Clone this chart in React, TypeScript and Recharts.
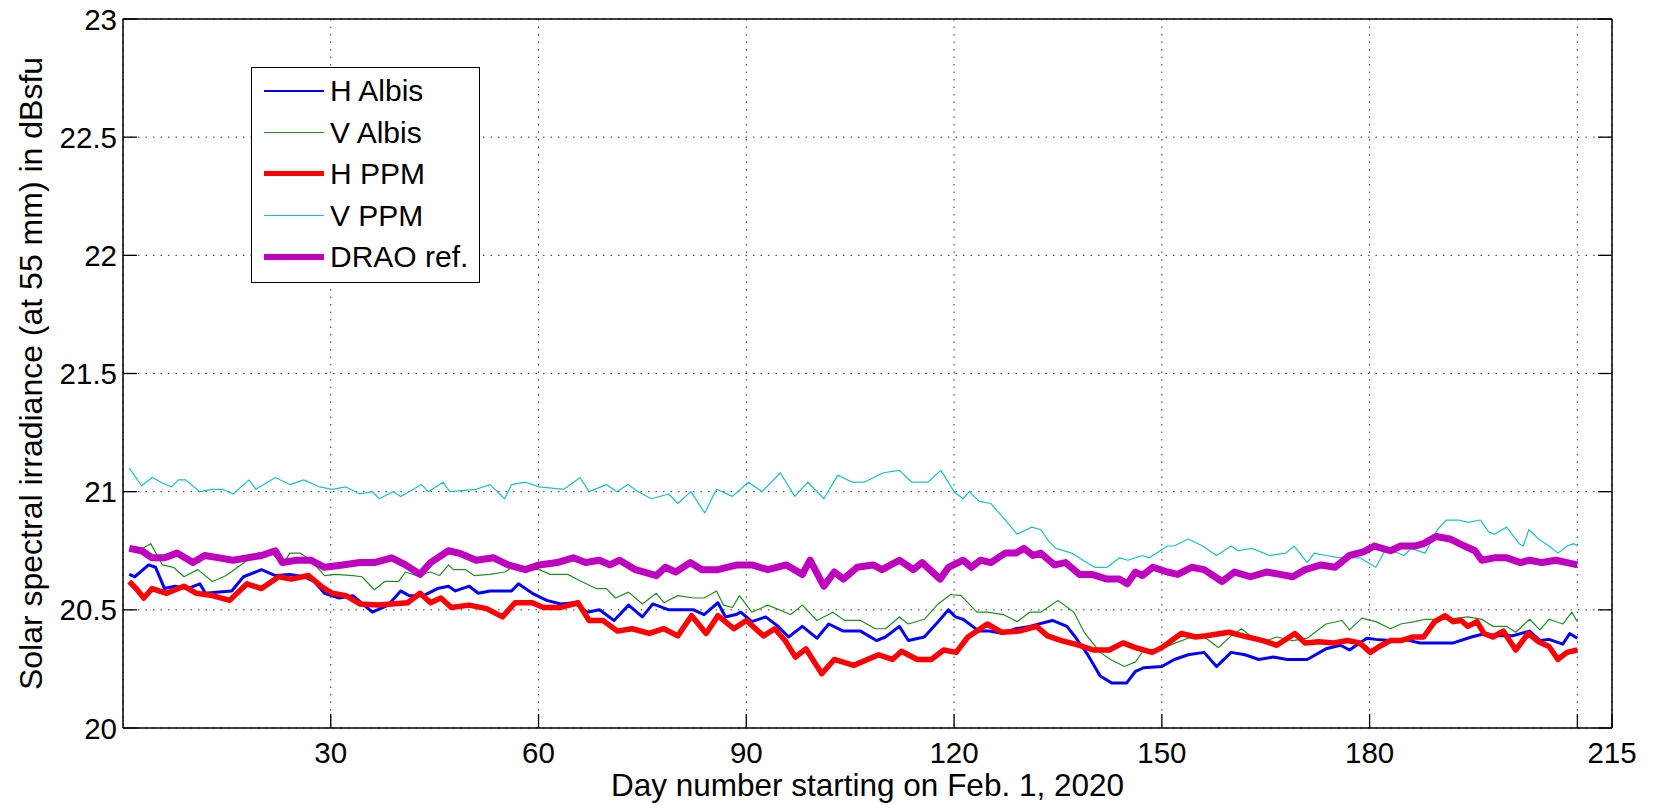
import { LineChart, Line, XAxis, YAxis, CartesianGrid } from "recharts";

// day number, value in dBsfu
const hAlbis: [number, number][] = [
  [0.9, 20.65], [1.7, 20.64], [3.7, 20.69], [4.7, 20.68], [6.0, 20.59], [7.5, 20.6], [9.3, 20.59], [11.1, 20.61],
  [11.9, 20.57], [13.9, 20.575], [15.7, 20.58], [17.4, 20.64], [20.0, 20.67], [22.0, 20.645], [24.1, 20.65],
  [26.1, 20.64], [27.6, 20.62], [29.1, 20.57], [31.2, 20.55], [33.2, 20.56], [36.0, 20.49], [38.3, 20.52],
  [40.1, 20.58], [41.3, 20.56], [43.4, 20.56], [45.4, 20.59], [47.0, 20.6], [48.0, 20.58], [50.0, 20.6],
  [51.3, 20.57], [53.0, 20.58], [56.1, 20.58], [57.1, 20.61], [59.1, 20.57], [61.2, 20.54], [63.2, 20.525],
  [65.2, 20.53], [67.0, 20.49], [68.8, 20.5], [70.9, 20.455], [73.0, 20.52], [75.0, 20.47], [76.5, 20.525],
  [78.8, 20.5], [80.6, 20.5], [82.4, 20.5], [83.9, 20.48], [85.9, 20.53], [87.0, 20.47], [88.5, 20.48],
  [89.2, 20.49], [90.8, 20.45], [92.8, 20.47], [94.6, 20.43], [96.1, 20.385], [98.1, 20.43], [100.2, 20.38],
  [101.9, 20.44], [104.0, 20.41], [106.5, 20.41], [108.8, 20.37], [110.1, 20.385], [112.1, 20.43], [113.4, 20.37],
  [115.7, 20.385], [117.7, 20.45], [119.2, 20.5], [120.2, 20.47], [121.3, 20.46], [123.6, 20.41], [125.1, 20.41],
  [127.1, 20.4], [128.9, 20.42], [130.9, 20.43], [134.2, 20.455], [136.3, 20.43], [137.5, 20.385], [139.3, 20.31],
  [141.1, 20.22], [142.8, 20.19], [144.9, 20.19], [146.2, 20.24], [147.4, 20.255], [150.0, 20.26], [151.8, 20.29],
  [153.8, 20.31], [156.1, 20.32], [157.9, 20.26], [160.0, 20.32], [162.0, 20.31], [164.0, 20.29], [166.1, 20.3],
  [168.1, 20.29], [171.0, 20.29], [173.7, 20.335], [175.8, 20.35], [177.1, 20.33], [179.6, 20.38], [180.9, 20.375],
  [183.0, 20.37], [185.0, 20.375], [187.3, 20.36], [190.1, 20.36], [192.1, 20.36], [194.7, 20.385], [196.7, 20.4],
  [198.3, 20.39], [200.6, 20.39], [203.1, 20.41], [204.6, 20.37], [205.9, 20.375], [207.9, 20.355], [208.9, 20.4],
  [210.0, 20.38],
];

const vAlbis: [number, number][] = [
  [0.9, 20.75], [2.2, 20.75], [4.0, 20.78], [5.7, 20.69], [7.3, 20.68], [8.8, 20.64], [10.8, 20.67], [12.9, 20.62],
  [14.9, 20.645], [17.0, 20.69], [19.5, 20.74], [21.5, 20.74], [23.0, 20.69], [24.1, 20.74], [25.6, 20.74],
  [27.1, 20.71], [29.1, 20.645], [30.7, 20.65], [33.2, 20.645], [34.5, 20.64], [36.3, 20.585], [37.8, 20.62],
  [39.8, 20.62], [40.8, 20.66], [42.4, 20.645], [44.4, 20.66], [45.7, 20.645], [47.0, 20.69], [47.7, 20.67],
  [49.5, 20.67], [50.7, 20.645], [53.0, 20.65], [55.1, 20.66], [56.8, 20.69], [58.1, 20.67], [60.1, 20.67],
  [61.7, 20.65], [64.2, 20.65], [66.2, 20.62], [68.3, 20.59], [69.8, 20.59], [71.1, 20.55], [73.0, 20.575],
  [75.0, 20.525], [77.0, 20.57], [78.1, 20.53], [80.1, 20.56], [82.4, 20.55], [83.9, 20.55], [85.7, 20.58],
  [86.7, 20.52], [88.0, 20.51], [89.0, 20.56], [90.8, 20.49], [93.1, 20.52], [96.4, 20.48], [98.1, 20.52],
  [100.2, 20.455], [102.5, 20.49], [104.2, 20.455], [106.5, 20.455], [108.6, 20.42], [110.1, 20.42], [112.1, 20.47],
  [113.4, 20.44], [115.7, 20.46], [117.7, 20.525], [119.5, 20.565], [121.0, 20.56], [123.3, 20.49], [124.8, 20.49],
  [127.1, 20.48], [129.1, 20.45], [130.9, 20.49], [132.5, 20.49], [135.0, 20.54], [137.3, 20.49], [138.8, 20.405],
  [141.1, 20.32], [142.6, 20.29], [144.6, 20.26], [146.2, 20.28], [147.4, 20.33], [150.0, 20.335], [152.0, 20.36],
  [153.8, 20.38], [155.9, 20.39], [158.2, 20.34], [160.0, 20.39], [161.5, 20.42], [163.0, 20.385], [165.1, 20.37],
  [166.6, 20.385], [168.9, 20.37], [171.0, 20.38], [173.7, 20.44], [176.0, 20.455], [177.1, 20.415], [178.9, 20.465],
  [180.9, 20.45], [183.0, 20.42], [184.5, 20.44], [186.5, 20.45], [188.0, 20.46], [190.9, 20.46], [194.2, 20.47],
  [196.2, 20.46], [197.8, 20.43], [199.8, 20.43], [201.1, 20.405], [203.1, 20.46], [204.6, 20.415], [205.9, 20.46],
  [207.9, 20.44], [209.2, 20.49], [210.0, 20.45],
];

const hPpm: [number, number][] = [
  [0.9, 20.62], [1.9, 20.59], [3.0, 20.55], [4.2, 20.59], [6.3, 20.57], [8.8, 20.6], [10.6, 20.57], [12.9, 20.56],
  [15.4, 20.54], [17.9, 20.61], [20.0, 20.59], [22.5, 20.64], [24.3, 20.63], [26.8, 20.645], [28.6, 20.6],
  [30.2, 20.57], [32.2, 20.56], [34.2, 20.525], [36.8, 20.52], [38.8, 20.525], [41.1, 20.53], [42.9, 20.57],
  [44.4, 20.53], [45.9, 20.55], [47.4, 20.51], [50.0, 20.52], [52.5, 20.505], [54.8, 20.47], [56.6, 20.53],
  [59.1, 20.53], [60.7, 20.51], [63.2, 20.51], [65.7, 20.53], [67.3, 20.455], [69.3, 20.455], [71.4, 20.41],
  [73.5, 20.42], [76.0, 20.4], [78.1, 20.42], [80.1, 20.39], [82.1, 20.475], [84.2, 20.4], [85.9, 20.475],
  [88.2, 20.42], [90.0, 20.455], [92.5, 20.39], [94.1, 20.42], [95.6, 20.37], [97.1, 20.3], [98.6, 20.335],
  [100.9, 20.23], [102.7, 20.29], [105.5, 20.265], [109.1, 20.31], [111.1, 20.29], [112.4, 20.325], [114.7, 20.29],
  [116.7, 20.29], [118.5, 20.33], [120.3, 20.32], [122.0, 20.385], [124.8, 20.44], [126.9, 20.405], [129.4, 20.41],
  [131.9, 20.43], [133.5, 20.39], [135.5, 20.37], [138.1, 20.35], [140.1, 20.33], [142.4, 20.33], [144.4, 20.36],
  [146.2, 20.34], [148.6, 20.32], [150.0, 20.34], [152.8, 20.4], [154.9, 20.385], [156.4, 20.39], [159.7, 20.405],
  [161.7, 20.39], [164.6, 20.37], [166.6, 20.35], [169.2, 20.4], [170.7, 20.36], [172.7, 20.365], [174.8, 20.36],
  [176.8, 20.37], [178.6, 20.36], [180.1, 20.32], [181.4, 20.345], [183.0, 20.37], [184.5, 20.37], [186.3, 20.385],
  [187.8, 20.385], [189.4, 20.45], [190.9, 20.475], [192.1, 20.45], [193.2, 20.455], [194.2, 20.43], [195.5, 20.45],
  [196.5, 20.4], [197.8, 20.385], [199.3, 20.41], [201.1, 20.33], [202.9, 20.4], [204.4, 20.365], [205.9, 20.345],
  [207.2, 20.29], [208.5, 20.32], [210.0, 20.33],
];

const vPpm: [number, number][] = [
  [0.9, 21.1], [2.7, 21.025], [4.2, 21.06], [5.5, 21.04], [7.0, 21.02], [8.0, 21.05], [9.05, 21.05], [11.1, 21.0],
  [12.9, 21.01], [14.4, 21.01], [15.9, 20.99], [18.2, 21.05], [19.2, 21.01], [22.0, 21.06], [24.1, 21.03],
  [26.1, 21.05], [28.4, 21.02], [30.2, 21.01], [32.2, 21.02], [34.2, 20.99], [36.0, 21.0], [37.0, 20.97],
  [39.0, 21.0], [40.1, 20.98], [41.3, 21.0], [43.1, 21.03], [44.1, 21.0], [46.2, 21.04], [47.2, 21.0], [51.0, 21.01],
  [53.0, 21.03], [55.1, 20.97], [56.1, 21.03], [58.1, 21.04], [60.1, 21.02], [63.7, 21.01], [66.0, 21.06],
  [67.3, 21.0], [69.8, 21.03], [71.3, 21.0], [72.9, 21.03], [74.4, 21.0], [76.3, 20.97], [78.8, 20.99],
  [80.1, 20.95], [82.0, 21.0], [84.0, 20.91], [85.7, 21.01], [88.0, 20.98], [90.3, 21.04], [92.3, 21.0],
  [94.9, 21.08], [97.0, 20.98], [98.9, 21.04], [101.2, 20.97], [103.2, 21.07], [105.3, 21.04], [107.0, 21.04],
  [109.8, 21.08], [112.1, 21.09], [113.9, 21.04], [116.2, 21.04], [118.1, 21.09], [120.0, 21.0], [121.3, 20.97],
  [122.2, 21.0], [123.6, 20.96], [125.3, 20.95], [127.1, 20.89], [129.1, 20.82], [131.2, 20.85], [132.5, 20.84],
  [133.7, 20.79], [134.7, 20.76], [137.0, 20.74], [138.6, 20.71], [140.3, 20.68], [142.1, 20.68], [143.9, 20.72],
  [145.1, 20.71], [147.2, 20.73], [148.2, 20.72], [150.8, 20.77], [151.8, 20.77], [153.8, 20.8], [155.9, 20.77],
  [157.9, 20.73], [160.0, 20.77], [161.0, 20.75], [163.0, 20.76], [165.6, 20.73], [167.9, 20.74], [169.1, 20.77],
  [171.0, 20.7], [172.0, 20.74], [173.7, 20.73], [175.8, 20.72], [178.6, 20.72], [180.9, 20.68], [182.4, 20.76],
  [185.0, 20.73], [186.0, 20.76], [188.0, 20.74], [189.8, 20.84], [191.1, 20.88], [192.9, 20.88], [194.2, 20.87],
  [196.0, 20.88], [197.2, 20.83], [198.0, 20.82], [199.8, 20.85], [201.6, 20.78], [202.2, 20.77], [203.0, 20.84],
  [204.4, 20.8], [205.9, 20.77], [207.2, 20.74], [208.5, 20.77], [209.5, 20.78], [210.0, 20.77],
];

const draoRef: [number, number][] = [
  [0.9, 20.76], [2.7, 20.75], [4.2, 20.72], [6.0, 20.72], [7.8, 20.74], [10.1, 20.7], [11.8, 20.73], [13.9, 20.72],
  [15.9, 20.71], [17.9, 20.72], [20.0, 20.73], [22.0, 20.75], [23.0, 20.7], [25.1, 20.71], [27.1, 20.71],
  [29.1, 20.68], [31.7, 20.69], [34.2, 20.7], [36.3, 20.7], [38.8, 20.72], [40.8, 20.69], [42.9, 20.65],
  [44.4, 20.7], [47.0, 20.75], [48.5, 20.74], [51.0, 20.71], [53.5, 20.72], [55.6, 20.69], [58.1, 20.67],
  [60.1, 20.69], [62.7, 20.7], [65.0, 20.72], [66.8, 20.7], [68.8, 20.71], [70.3, 20.69], [71.7, 20.71],
  [74.0, 20.67], [77.0, 20.645], [78.3, 20.68], [79.8, 20.66], [81.9, 20.7], [83.6, 20.67], [85.9, 20.67],
  [88.7, 20.69], [90.8, 20.69], [93.1, 20.67], [95.8, 20.69], [98.1, 20.65], [99.2, 20.71], [101.2, 20.6],
  [102.7, 20.66], [104.0, 20.63], [106.0, 20.68], [108.3, 20.69], [109.6, 20.67], [112.1, 20.71], [114.1, 20.67],
  [115.4, 20.7], [118.0, 20.63], [119.2, 20.68], [121.3, 20.71], [122.5, 20.68], [123.8, 20.71], [125.3, 20.7],
  [127.4, 20.74], [128.9, 20.74], [130.1, 20.76], [131.4, 20.73], [132.5, 20.74], [134.5, 20.69], [136.1, 20.7],
  [138.1, 20.65], [139.9, 20.65], [142.1, 20.63], [143.9, 20.63], [145.0, 20.61], [146.2, 20.66], [147.2, 20.645],
  [148.7, 20.68], [150.8, 20.66], [152.3, 20.65], [154.3, 20.68], [156.1, 20.67], [158.7, 20.62], [160.5, 20.66],
  [162.8, 20.64], [165.1, 20.66], [167.1, 20.65], [168.9, 20.64], [170.7, 20.67], [173.0, 20.69], [175.0, 20.68],
  [177.1, 20.73], [179.1, 20.745], [180.7, 20.77], [183.0, 20.75], [184.5, 20.77], [186.5, 20.77], [187.8, 20.78],
  [189.6, 20.81], [191.6, 20.8], [193.7, 20.77], [195.2, 20.75], [196.2, 20.71], [198.0, 20.72], [199.8, 20.72],
  [201.8, 20.7], [203.1, 20.71], [204.9, 20.7], [206.9, 20.71], [208.5, 20.7], [210.0, 20.69],
];

const xTicks = [30, 60, 90, 120, 150, 180, 210, 215];
const xTickLabels = ["30", "60", "90", "120", "150", "180", "", "215"];
const yTicks = [20, 20.5, 21, 21.5, 22, 22.5, 23];
const yTickLabels = ["20", "20.5", "21", "21.5", "22", "22.5", "23"];

const series = [
  { name: "H Albis", data: hAlbis, color: "#0000ff", width: 3, legendWidth: 2.5 },
  { name: "V Albis", data: vAlbis, color: "#1f8f1f", width: 1.2, legendWidth: 1.5 },
  { name: "H PPM", data: hPpm, color: "#ff0000", width: 5.5, legendWidth: 5 },
  { name: "V PPM", data: vPpm, color: "#19c2c2", width: 1.2, legendWidth: 1.5 },
  { name: "DRAO ref.", data: draoRef, color: "#bf00bf", width: 7, legendWidth: 6 },
];

const FONT = "'Liberation Sans', Arial, sans-serif";
const TICK_FS = 29.5;
const LABEL_FS = 32;
const LEGEND_FS = 30;
const TICK_LEN = 14;

const toPoints = (arr: [number, number][]) => arr.map(([day, v]) => ({ day, v }));

function BottomTick(props: any) {
  const { x, y, payload } = props;
  const label = xTickLabels[xTicks.indexOf(payload.value)];
  return (
    <g>
      <line x1={x} y1={y} x2={x} y2={y - TICK_LEN} stroke="#000" strokeWidth={1.3} />
      <text x={x} y={y + 35} textAnchor="middle" fontFamily={FONT} fontSize={TICK_FS} fill="#000">
        {label}
      </text>
    </g>
  );
}

function TopTick(props: any) {
  const { x, y } = props;
  return <line x1={x} y1={y} x2={x} y2={y + TICK_LEN} stroke="#000" strokeWidth={1.3} />;
}

function LeftTick(props: any) {
  const { x, y, payload } = props;
  const label = yTickLabels[yTicks.indexOf(payload.value)];
  return (
    <g>
      <line x1={x} y1={y} x2={x + TICK_LEN} y2={y} stroke="#000" strokeWidth={1.3} />
      <text x={x - 6} y={y} dy="0.36em" textAnchor="end" fontFamily={FONT} fontSize={TICK_FS} fill="#000">
        {label}
      </text>
    </g>
  );
}

function RightTick(props: any) {
  const { x, y } = props;
  return <line x1={x} y1={y} x2={x - TICK_LEN} y2={y} stroke="#000" strokeWidth={1.3} />;
}

function Legend() {
  return (
    <div
      style={{
        position: "absolute",
        left: 251,
        top: 67,
        width: 229,
        height: 216,
        border: "1.3px solid #000",
        background: "#fff",
        boxSizing: "border-box",
        fontFamily: FONT,
        fontSize: LEGEND_FS,
      }}
    >
      {series.map((s, i) => (
        <div
          key={s.name}
          style={{ position: "absolute", left: 0, top: 2 + i * 41.5, height: 41.5, width: "100%" }}
        >
          <div
            style={{
              position: "absolute",
              left: 12,
              top: 20.75 - s.legendWidth / 2,
              width: 60,
              height: s.legendWidth,
              background: s.color,
            }}
          />
          <div style={{ position: "absolute", left: 78, top: 0, lineHeight: "41.5px", whiteSpace: "nowrap" }}>
            {s.name}
          </div>
        </div>
      ))}
    </div>
  );
}

export default function App() {
  return (
    <div style={{ position: "absolute", left: 0, top: 0, width: 1653, height: 805, background: "#fff" }}>
      <LineChart width={1653} height={805} margin={{ top: 18, right: 40, bottom: 47, left: 63 }}>
        <CartesianGrid stroke="#333" strokeDasharray="1.5 6" />
        <XAxis
          dataKey="day"
          type="number"
          domain={[0, 215]}
          ticks={xTicks}
          interval={0}
          height={30}
          tickSize={0}
          tickMargin={0}
          tickLine={false}
          axisLine={{ stroke: "#000", strokeWidth: 1.5 }}
          tick={<BottomTick />}
          allowDataOverflow
          label={{
            content: (p: any) => {
              const vb = p.viewBox;
              return (
                <text x={vb.x + vb.width / 2} y={796} textAnchor="middle" fontFamily={FONT} fontSize={LABEL_FS - 0.5} fill="#000">
                  Day number starting on Feb. 1, 2020
                </text>
              );
            },
          }}
        />
        <XAxis
          xAxisId="top"
          orientation="top"
          type="number"
          domain={[0, 215]}
          ticks={xTicks}
          interval={0}
          height={1}
          tickSize={0}
          tickMargin={0}
          tickLine={false}
          axisLine={{ stroke: "#000", strokeWidth: 1.5 }}
          tick={<TopTick />}
          allowDataOverflow
        />
        <YAxis
          type="number"
          domain={[20, 23]}
          ticks={yTicks}
          interval={0}
          width={60}
          tickSize={0}
          tickMargin={0}
          tickLine={false}
          axisLine={{ stroke: "#000", strokeWidth: 1.5 }}
          tick={<LeftTick />}
          allowDataOverflow
          label={{
            content: (p: any) => {
              const vb = p.viewBox;
              const cx = 30;
              const cy = vb.y + vb.height / 2;
              return (
                <text
                  x={cx}
                  y={cy}
                  dy="0.36em"
                  textAnchor="middle"
                  transform={`rotate(-90 ${cx} ${cy})`}
                  fontFamily={FONT}
                  fontSize={LABEL_FS}
                  fill="#000"
                >
                  Solar spectral irradiance (at 55 mm) in dBsfu
                </text>
              );
            },
          }}
        />
        <YAxis
          yAxisId="right"
          orientation="right"
          type="number"
          domain={[20, 23]}
          ticks={yTicks}
          interval={0}
          width={1}
          tickSize={0}
          tickMargin={0}
          tickLine={false}
          axisLine={{ stroke: "#000", strokeWidth: 1.5 }}
          tick={<RightTick />}
          allowDataOverflow
        />
        {series.map((s) => (
          <Line
            key={s.name}
            data={toPoints(s.data)}
            dataKey="v"
            name={s.name}
            type="linear"
            stroke={s.color}
            strokeWidth={s.width}
            strokeLinejoin="round"
            dot={false}
            activeDot={false}
            isAnimationActive={false}
          />
        ))}
      </LineChart>
      <Legend />
    </div>
  );
}
